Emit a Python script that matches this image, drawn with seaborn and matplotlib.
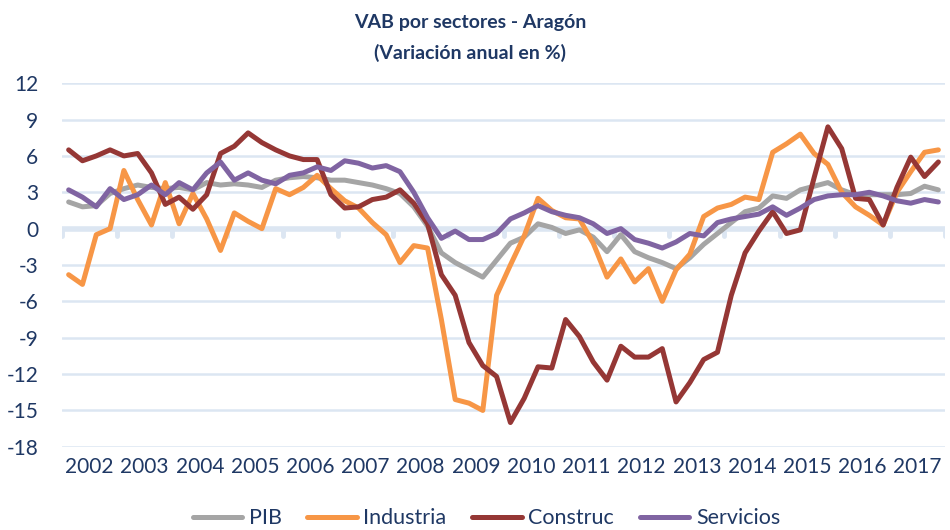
import numpy as np
import pandas as pd
import matplotlib
matplotlib.use("Agg")
import matplotlib.pyplot as plt
import seaborn as sns

# Datos trimestrales 2002T1 - 2017T4 (variación anual en %)
anios = [str(a) for a in range(2002, 2018)]
series = ["PIB", "Industria", "Construc", "Servicios"]
colores = ["#A5A5A5", "#F79646", "#953735", "#8064A2"]

pib = [2.2, 1.8, 1.9, 2.9, 3.3, 3.6, 3.4, 3.3, 3.4, 3.2, 3.8, 3.6, 3.7, 3.6, 3.4, 4.0,
       4.2, 4.3, 4.2, 4.0, 4.0, 3.8, 3.6, 3.3, 2.9, 1.8, 0.2, -2.0, -2.8, -3.4, -4.0, -2.6,
       -1.2, -0.7, 0.4, 0.1, -0.4, -0.1, -0.7, -1.9, -0.5, -1.9, -2.4, -2.8, -3.3, -2.4, -1.3, -0.4,
       0.5, 1.4, 1.7, 2.7, 2.5, 3.2, 3.5, 3.8, 3.2, 2.8, 2.8, 2.8, 2.8, 2.9, 3.5, 3.2]

industria = [-3.8, -4.6, -0.5, 0.0, 4.8, 2.4, 0.3, 3.8, 0.4, 2.9, 0.8, -1.8, 1.3, 0.6, 0.0, 3.3,
             2.8, 3.4, 4.4, 3.3, 2.3, 1.7, 0.5, -0.5, -2.8, -1.4, -1.6, -7.5, -14.1, -14.4, -15.0, -5.5,
             -3.0, -0.6, 2.5, 1.5, 0.9, 0.8, -1.2, -4.0, -2.5, -4.4, -3.3, -6.0, -3.4, -2.1, 1.0, 1.7,
             2.0, 2.6, 2.4, 6.3, 7.0, 7.8, 6.2, 5.3, 3.0, 1.8, 1.1, 0.3, 3.0, 4.7, 6.3, 6.5]

construc = [6.5, 5.6, 6.0, 6.5, 6.0, 6.2, 4.6, 2.0, 2.6, 1.6, 2.8, 6.2, 6.8, 7.9, 7.1, 6.5,
            6.0, 5.7, 5.7, 2.8, 1.7, 1.8, 2.4, 2.6, 3.2, 2.1, 0.4, -3.8, -5.5, -9.4, -11.3, -12.2,
            -16.0, -14.0, -11.4, -11.5, -7.5, -8.9, -11.0, -12.5, -9.7, -10.6, -10.6, -9.9, -14.3, -12.7, -10.8, -10.2,
            -5.5, -2.0, -0.2, 1.4, -0.4, -0.1, 4.2, 8.4, 6.6, 2.5, 2.4, 0.3, 3.4, 5.9, 4.3, 5.5]

servicios = [3.2, 2.6, 1.8, 3.3, 2.4, 2.8, 3.6, 2.8, 3.8, 3.2, 4.6, 5.5, 4.0, 4.6, 4.0, 3.7,
             4.4, 4.6, 5.1, 4.8, 5.6, 5.4, 5.0, 5.2, 4.7, 3.0, 0.9, -0.8, -0.2, -0.9, -0.9, -0.4,
             0.8, 1.3, 1.9, 1.4, 1.1, 0.9, 0.4, -0.4, 0.0, -0.9, -1.2, -1.6, -1.1, -0.4, -0.6, 0.5,
             0.8, 1.0, 1.2, 1.8, 1.1, 1.7, 2.4, 2.7, 2.8, 2.8, 3.0, 2.7, 2.3, 2.1, 2.4, 2.2]

y_ticks = [12, 9, 6, 3, 0, -3, -6, -9, -12, -15, -18]

# Formato largo para seaborn
n = len(pib)
df = pd.DataFrame({
    "t": np.tile(np.arange(n), 4),
    "valor": pib + industria + construc + servicios,
    "serie": np.repeat(series, n),
})

sns.set_style("white")
plt.rcParams["font.family"] = ["Lato", "DejaVu Sans"]
azul = "#1F3864"
grid = "#DCE6F2"

fig = plt.figure(figsize=(9.5, 5.3), dpi=100)
ax = fig.add_axes([0.065, 0.157, 0.93, 0.686])

for y in y_ticks:
    if y != 0:
        ax.axhline(y, color=grid, lw=1.8, zorder=0)
ax.axhline(0, color=grid, lw=4, zorder=0)

# marcas de año bajo el eje del cero
cero = (0 - y_ticks[-1]) / (y_ticks[0] - y_ticks[-1])
for xb in np.arange(-0.5, n, 4):
    ax.axvline(xb, ymin=cero - 0.02, ymax=cero, color=grid, lw=3.5, zorder=0)

sns.lineplot(data=df, x="t", y="valor", hue="serie", hue_order=series,
             palette=colores, linewidth=3.6, ax=ax, legend=True)

ax.set_xlim(-0.5, n - 0.5)
ax.set_ylim(-18, 12)
ax.set_yticks(y_ticks)
ax.set_yticklabels([str(v) for v in y_ticks])
ax.set_xticks(np.arange(1.5, n, 4))
ax.set_xticklabels(anios)
ax.tick_params(axis="both", length=0, labelsize=15, colors=azul)
ax.tick_params(axis="x", pad=7)
ax.tick_params(axis="y", pad=17)
ax.set_xlabel("")
ax.set_ylabel("")
for s in ax.spines.values():
    s.set_visible(False)

handles, labels = ax.get_legend_handles_labels()
ax.get_legend().remove()
fig.legend(handles, labels, loc="center", bbox_to_anchor=(0.512, 0.022), ncol=4,
           frameon=False, fontsize=15.5, handlelength=2.3, handletextpad=0.3,
           columnspacing=1.2, labelcolor=azul)

fig.text(0.495, 0.958, "VAB por sectores - Aragón", ha="center", va="center",
         fontsize=14, fontweight="bold", color=azul)
fig.text(0.495, 0.9, "(Variación anual en %)", ha="center", va="center",
         fontsize=14, fontweight="bold", color=azul)

fig.savefig("out.png", dpi=100)
